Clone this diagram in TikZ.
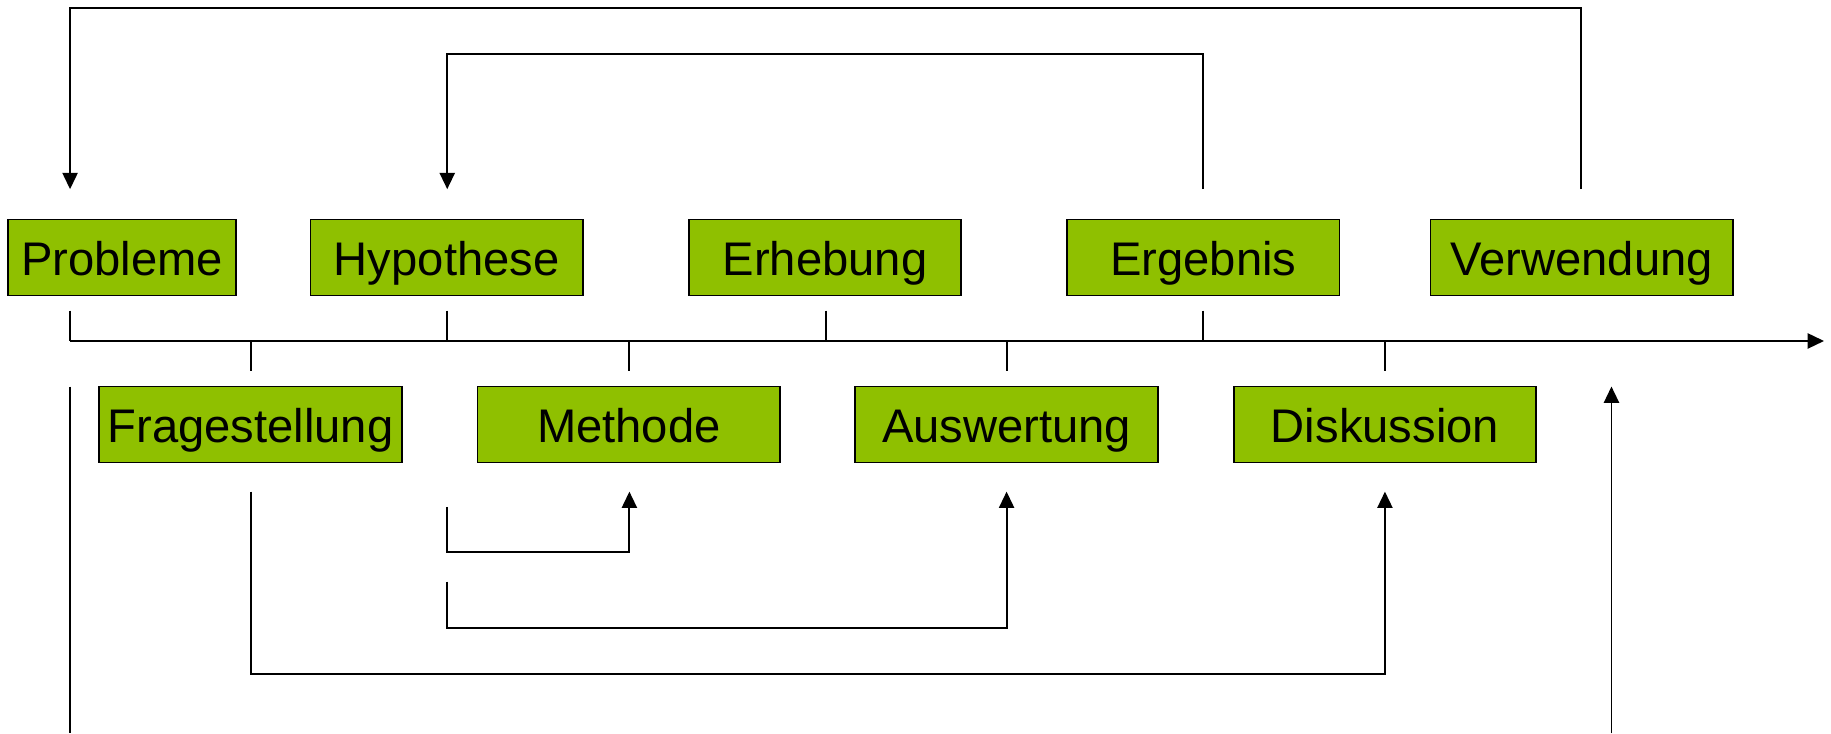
\documentclass[tikz,border=0pt]{standalone}
\usepackage{fontspec}
\setmainfont{Liberation Sans}
\usetikzlibrary{arrows.meta}
\definecolor{boxgreen}{RGB}{143,192,0}
\tikzset{
  box/.style={draw=black, line width=0.75pt, fill=boxgreen, inner sep=0pt,
    minimum height=32.5pt, text height=19.8pt, text depth=4.5pt,
    font=\fontsize{20.2pt}{24pt}\selectfont, text=black},
  ln/.style={draw=black, line width=0.8pt},
  arr/.style={ln, -{Triangle[length=7pt,width=6.5pt]}}
}
\begin{document}
\begin{tikzpicture}[x=0.5pt,y=-0.5pt]
\useasboundingbox (0,0) rectangle (1568,628);
% top row
\node[box, minimum width=97.5pt]  (prob) at (104.5,220.5) {Probleme};
\node[box, minimum width=116.5pt] (hyp)  at (382.5,220.5) {Hypothese};
\node[box, minimum width=116.5pt] (erh)  at (706.5,220.5) {Erhebung};
\node[box, minimum width=116.5pt] (erg)  at (1030.5,220.5) {Ergebnis};
\node[box, minimum width=129.5pt] (verw) at (1354.5,220.5) {Verwendung};
% bottom row
\node[box, minimum width=129.5pt] (frag) at (214.5,363.5) {Fragestellung};
\node[box, minimum width=129.5pt] (meth) at (538.5,363.5) {Methode};
\node[box, minimum width=129.5pt] (ausw) at (862,363.5) {Auswertung};
\node[box, minimum width=129.5pt] (disk) at (1186,363.5) {Diskussion};
% coordinates
\coordinate (tl0) at (60,292);
\coordinate (tl1) at (1562,292);
\coordinate (pIn) at (60,162);
\coordinate (vOut) at (1354,162);
\coordinate (hIn) at (383,162);
\coordinate (eOut) at (1030,162);
\coordinate (t1a) at (60,266);   \coordinate (t1b) at (60,292);
\coordinate (t2a) at (383,266);  \coordinate (t2b) at (383,292);
\coordinate (t3a) at (707,266);  \coordinate (t3b) at (707,292);
\coordinate (t4a) at (1030,266); \coordinate (t4b) at (1030,292);
\coordinate (b1a) at (215,292);  \coordinate (b1b) at (215,318);
\coordinate (b2a) at (539,292);  \coordinate (b2b) at (539,318);
\coordinate (b3a) at (862,292);  \coordinate (b3b) at (862,318);
\coordinate (b4a) at (1186,292); \coordinate (b4b) at (1186,318);
\coordinate (lTop) at (60,331);  \coordinate (lBot) at (60,628);
\coordinate (rBot) at (1380,628); \coordinate (rTop) at (1380,331);
\coordinate (fOut) at (215,421); \coordinate (dIn) at (1186,421);
\coordinate (m1Out) at (383,434); \coordinate (mIn) at (539,421);
\coordinate (m2Out) at (383,498); \coordinate (aIn) at (862,421);
% feedback loops on top
\draw[arr] (vOut) -- (1354,7) -| (pIn);
\draw[arr] (eOut) -- (1030,46) -| (hIn);
% timeline
\draw[arr] (tl0) -- (tl1);
\draw[ln] (t1a) -- (t1b);
\draw[ln] (t2a) -- (t2b);
\draw[ln] (t3a) -- (t3b);
\draw[ln] (t4a) -- (t4b);
\draw[ln] (b1a) -- (b1b);
\draw[ln] (b2a) -- (b2b);
\draw[ln] (b3a) -- (b3b);
\draw[ln] (b4a) -- (b4b);
% side lines
\draw[ln] (lTop) -- (lBot);
\draw[arr] (rBot) -- (rTop);
% lower loops
\draw[arr] (fOut) -- (215,577) -| (dIn);
\draw[arr] (m1Out) -- (383,473) -| (mIn);
\draw[arr] (m2Out) -- (383,538) -| (aIn);
\end{tikzpicture}
\end{document}
